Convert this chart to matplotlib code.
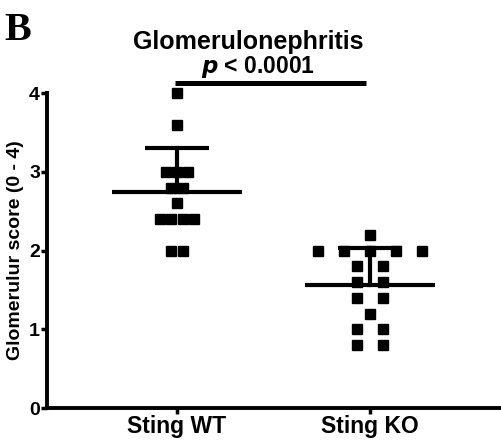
import numpy as np
import matplotlib
matplotlib.use("Agg")
import matplotlib.pyplot as plt

plt.rcParams['font.family'] = 'Liberation Sans'
plt.rcParams['font.weight'] = 'bold'

groups = ["Sting WT", "Sting KO"]

# individual scores and their horizontal spread
wt_scores = [4.0, 3.6, 3.0, 3.0, 3.0, 2.8, 2.8, 2.6, 2.4, 2.4, 2.4, 2.4, 2.0, 2.0]
wt_spread = [0, 0, -0.057, 0, 0.057, -0.03, 0.03, 0, -0.088, -0.03, 0.03, 0.088, -0.03, 0.03]
ko_scores = [2.2, 2.0, 2.0, 2.0, 2.0, 2.0, 1.8, 1.8, 1.6, 1.6, 1.4, 1.4, 1.2, 1.0, 1.0, 0.8, 0.8]
ko_spread = [0, -0.267, -0.134, 0, 0.134, 0.267, -0.065, 0.065, -0.065, 0.065,
             -0.065, 0.065, 0, -0.065, 0.065, -0.065, 0.065]

p_label = "< 0.0001"

fig = plt.figure(figsize=(5.01, 4.41), dpi=100)
ax = fig.add_axes([0.0938, 0.0748, 0.9062, 0.789 - 0.0748])

for i, (scores, spread) in enumerate([(wt_scores, wt_spread), (ko_scores, ko_spread)]):
    pos = i + 1
    s = np.array(scores)
    ax.plot(pos + np.array(spread), s, 's', color='black', markersize=6.5, clip_on=False)
    m, sd = s.mean(), s.std(ddof=1)
    ax.plot([pos - 0.335, pos + 0.335], [m, m], color='black', lw=3, solid_capstyle='butt')
    ax.plot([pos, pos], [m, m + sd], color='black', lw=3)
    ax.plot([pos - 0.166, pos + 0.166], [m + sd, m + sd], color='black', lw=3, solid_capstyle='butt')

# significance bar
ax.plot([0.99, 1.98], [4.13, 4.13], color='black', lw=3.6, clip_on=False, solid_capstyle='butt')
ax.text(1.42, 4.33, r"$\mathbfit{p}$ " + p_label, ha='center', va='center', fontsize=16.5,
        fontweight='bold')

ax.set_xlim(0.326, 2.679)
ax.set_ylim(0, 4)
ax.set_xticks([1, 2])
ax.set_xticklabels(groups, fontsize=16.5, fontweight='bold')
ax.set_yticks([0, 1, 2, 3, 4])
ax.set_yticklabels(["0", "1", "2", "3", "4"], fontsize=14, fontweight='bold')
ax.tick_params(axis='both', width=2.5, length=4, pad=1)
ax.set_ylabel("Glomerulur score (0 - 4)", fontsize=14, fontweight='bold', labelpad=4)
for side in ['top', 'right']:
    ax.spines[side].set_visible(False)
for side in ['left', 'bottom']:
    ax.spines[side].set_linewidth(2.8)

fig.text(0.495, 0.905, "Glomerulonephritis", ha='center', va='center', fontsize=18, fontweight='bold')
fig.text(0.008, 0.93, "B", fontsize=29, fontweight='bold', family='Liberation Serif', va='center')

fig.savefig("out.png", dpi=100)
